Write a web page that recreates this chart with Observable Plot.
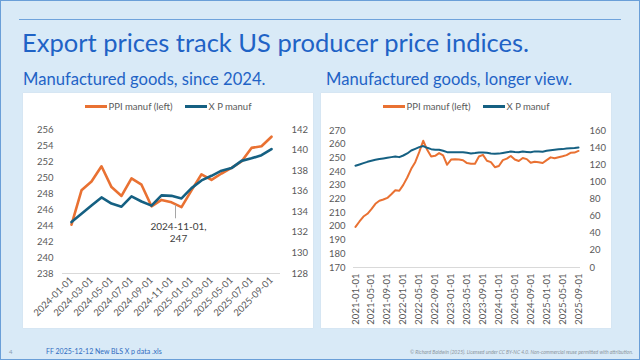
<!DOCTYPE html>
<html><head><meta charset="utf-8">
<script src="https://cdn.jsdelivr.net/npm/d3@7"></script>
<script src="https://cdn.jsdelivr.net/npm/@observablehq/plot@0.6"></script>
<style>
body{margin:0;background:#fff;}
#slide{position:relative;width:638px;height:358px;background:#d9eaf7;border:1px solid #6a9fd8;overflow:hidden;font-family:Lato,"Noto Sans",sans-serif;}
.rule{position:absolute;left:18px;top:18px;width:602px;height:1px;background:#6fa3dc;}
.title{position:absolute;left:21px;top:26px;font-size:25.5px;color:#1f63c6;white-space:nowrap;}
.sub{position:absolute;top:68px;font-size:16.6px;color:#1f63c6;white-space:nowrap;}
.panel{position:absolute;top:92px;width:290px;height:235px;background:#fff;box-shadow:0 0 1px #c8d4de;}
.legend{position:absolute;left:0;top:8px;width:100%;display:flex;justify-content:center;align-items:center;font-size:9.5px;color:#595959;}
.legend .sw{display:inline-block;width:22px;height:3px;margin-right:2px;}
.legend .item{display:flex;align-items:center;margin:0 6px;}
.panel svg{position:absolute;left:0;top:0;}
.foot{position:absolute;white-space:nowrap;}
</style></head><body>
<div id="slide">
  <div class="rule"></div>
  <div class="title">Export prices track US producer price indices.</div>
  <div class="sub" style="left:22px">Manufactured goods, since 2024.</div>
  <div class="sub" style="left:325px">Manufactured goods, longer view.</div>
  <div class="panel" id="p1" style="left:22px"></div>
  <div class="panel" id="p2" style="left:320px"></div>
  <div class="foot" style="left:8px;top:347px;font-size:6px;color:#8a9bb0">4</div>
  <div class="foot" style="left:45px;top:346px;font-size:7px;color:#2e6bbf">FF 2025-12-12 New BLS X p data .xls</div>
  <div class="foot" style="right:6px;top:348px;font-size:5px;font-style:italic;color:#8c96a0">© Richard Baldwin (2025). Licensed under CC BY-NC 4.0. Non-commercial reuse permitted with attribution.</div>
</div>
<script>
// ---------- data ----------
const recentDates = ["2024-01-01","2024-02-01","2024-03-01","2024-04-01","2024-05-01","2024-06-01","2024-07-01","2024-08-01","2024-09-01","2024-10-01","2024-11-01","2024-12-01","2025-01-01","2025-02-01","2025-03-01","2025-04-01","2025-05-01","2025-06-01","2025-07-01","2025-08-01","2025-09-01"];
const ppiRecent = [244.1,248.4,249.5,251.4,248.8,247.7,249.9,249.1,246.4,247.2,246.9,246.3,248.4,250.4,249.7,250.5,251.2,252.0,253.7,253.9,255.1];
const xpRecent  = [133.0,133.8,134.6,135.4,134.8,134.5,135.5,135.0,134.6,135.6,135.55,135.3,136.3,137.05,137.5,138.0,138.25,138.95,139.2,139.5,140.1];

const longDatesEarly = ["2021-01-01","2021-02-01","2021-03-01","2021-04-01","2021-05-01","2021-06-01","2021-07-01","2021-08-01","2021-09-01","2021-10-01","2021-11-01","2021-12-01","2022-01-01","2022-02-01","2022-03-01","2022-04-01","2022-05-01","2022-06-01","2022-07-01","2022-08-01","2022-09-01","2022-10-01","2022-11-01","2022-12-01","2023-01-01","2023-02-01","2023-03-01","2023-04-01","2023-05-01","2023-06-01","2023-07-01","2023-08-01","2023-09-01","2023-10-01","2023-11-01","2023-12-01"];
const ppiEarly = [199.6,203.6,207.2,209.2,212.6,216.5,218.7,219.6,220.8,223.5,226.4,226.0,230.3,235.7,242.0,246.9,254.2,262.5,255.9,251.0,251.5,253.5,251.8,245.0,248.8,249.1,248.8,248.3,246.2,245.7,245.7,251.0,252.2,247.9,246.9,243.2];
const xpEarly  = [118.8,120.3,121.9,123.4,124.6,125.8,126.6,127.3,128.1,128.9,129.7,128.9,130.8,133.2,136.7,138.6,140.6,141.8,139.8,138.2,137.5,137.5,136.3,134.7,134.7,134.7,134.7,134.7,134.0,133.2,133.6,134.3,134.3,134.0,133.2,132.8];

const longDates = [...longDatesEarly, ...recentDates];
const ppiLong = [...ppiEarly, ...ppiRecent];
const xpLong  = [...xpEarly, ...xpRecent];

const leftTicks1 = [238,240,242,244,246,248,250,252,254,256];
const rightTicks1 = [128,130,132,134,136,138,140,142];
const leftTicks2 = [170,180,190,200,210,220,230,240,250,260,270];
const rightTicks2 = [0,20,40,60,80,100,120,140,160];

const annoDate = "2024-11-01", annoValue = 247;

const ORANGE = "#e97132", BLUE = "#156082", GREY = "#595959";

// ---------- helpers ----------
function legend(el){
  const d = document.createElement("div");
  d.className = "legend";
  d.innerHTML = `<span class="item"><span class="sw" style="background:${ORANGE}"></span>PPI manuf (left)</span><span class="item"><span class="sw" style="background:${BLUE}"></span>X P manuf</span>`;
  el.appendChild(d);
}
const font = {background:"transparent", fontFamily:"Lato, 'Noto Sans', sans-serif", fontSize:"9.5px", color:GREY, overflow:"visible"};

// ---------- chart 1 ----------
{
  const toL = v => 238 + (v - 128) * 18 / 14;
  const fromL = v => 128 + (v - 238) * 14 / 18;
  const table = recentDates.map((d, i) => ({date: d, ppi: ppiRecent[i], xp: toL(xpRecent[i])}));
  const chart = Plot.plot({
    width: 290, height: 235,
    marginTop: 36, marginLeft: 39, marginRight: 33, marginBottom: 55,
    style: font,
    x: {type: "point", domain: recentDates, padding: 0.5},
    y: {domain: [238, 256]},
    marks: [
      Plot.ruleY([238], {stroke: "#d9d9d9"}),
      Plot.axisY(leftTicks1, {tickSize: 0, tickPadding: 9, label: null}),
      Plot.axisY(rightTicks1.map(toL), {anchor: "right", tickSize: 0, tickPadding: 11, label: null, tickFormat: d => Math.round(fromL(d))}),
      Plot.axisX(recentDates.filter((d, i) => i % 2 === 0), {tickRotate: -45, tickSize: 0, tickPadding: 5, label: null}),
      Plot.line(table, {x: "date", y: "ppi", stroke: ORANGE, strokeWidth: 2.6}),
      Plot.line(table, {x: "date", y: "xp", stroke: BLUE, strokeWidth: 2.6}),
      Plot.link([{date: annoDate}], {x1: "date", x2: "date", y1: () => annoValue - 0.4, y2: () => annoValue - 2.1, dx: 4, stroke: "#a6a6a6", strokeWidth: 1}),
      Plot.text([{date: annoDate}], {x: "date", y: () => annoValue, text: () => `${annoDate},\n${annoValue}`, dx: 7, dy: 31, fill: "#404040", fontSize: 10, lineHeight: 1.15})
    ]
  });
  const p = document.getElementById("p1");
  p.appendChild(chart);
  legend(p);
}

// ---------- chart 2 ----------
{
  const toL = v => 170 + v * 100 / 160;
  const fromL = v => (v - 170) * 160 / 100;
  const table = longDates.map((d, i) => ({date: d, ppi: ppiLong[i], xp: toL(xpLong[i])}));
  const chart = Plot.plot({
    width: 290, height: 235,
    marginTop: 37, marginLeft: 32, marginRight: 31, marginBottom: 61,
    style: font,
    x: {type: "point", domain: longDates, padding: 0.5},
    y: {domain: [170, 270]},
    marks: [
      Plot.ruleY([170], {stroke: "#d9d9d9"}),
      Plot.axisY(leftTicks2, {tickSize: 0, tickPadding: 8, label: null}),
      Plot.axisY(rightTicks2.map(toL), {anchor: "right", tickSize: 0, tickPadding: 9, label: null, tickFormat: d => Math.round(fromL(d))}),
      Plot.axisX(longDates.filter((d, i) => i % 4 === 0), {tickRotate: -90, tickSize: 0, tickPadding: 6, label: null}),
      Plot.line(table, {x: "date", y: "ppi", stroke: ORANGE, strokeWidth: 2}),
      Plot.line(table, {x: "date", y: "xp", stroke: BLUE, strokeWidth: 2})
    ]
  });
  const p = document.getElementById("p2");
  p.appendChild(chart);
  legend(p);
}
</script>
</body></html>
